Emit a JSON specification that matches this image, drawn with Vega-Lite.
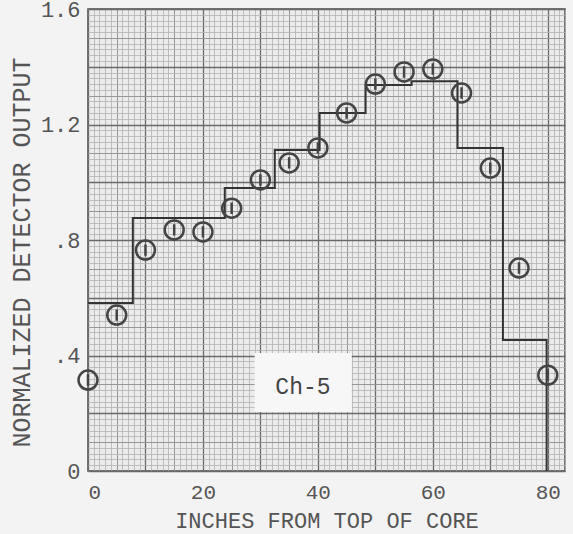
{
  "$schema": "https://vega.github.io/schema/vega-lite/v6.json",
  "width": 477,
  "height": 462,
  "autosize": {"type": "none"},
  "padding": {"left": 88, "top": 9, "right": 8, "bottom": 63},
  "background": "#f3f3f3",
  "config": {
    "view": {"fill": "#ebebeb", "stroke": "#4a4a4a", "strokeWidth": 1.5},
    "font": "Liberation Mono"
  },
  "datasets": {
    "points": [
      {"inches": 0, "output": 0.315},
      {"inches": 5, "output": 0.54},
      {"inches": 10, "output": 0.765},
      {"inches": 15, "output": 0.835},
      {"inches": 20, "output": 0.828},
      {"inches": 25, "output": 0.91},
      {"inches": 30, "output": 1.008},
      {"inches": 35, "output": 1.067},
      {"inches": 40, "output": 1.119},
      {"inches": 45, "output": 1.24},
      {"inches": 50, "output": 1.34},
      {"inches": 55, "output": 1.382},
      {"inches": 60, "output": 1.392},
      {"inches": 65, "output": 1.309},
      {"inches": 70, "output": 1.049},
      {"inches": 75, "output": 0.703},
      {"inches": 80, "output": 0.332}
    ],
    "steps": [
      {"inches": 0, "output": 0.582},
      {"inches": 7.8, "output": 0.876},
      {"inches": 23.8, "output": 0.98},
      {"inches": 32.5, "output": 1.112},
      {"inches": 40.3, "output": 1.24},
      {"inches": 48.3, "output": 1.337},
      {"inches": 56.3, "output": 1.35},
      {"inches": 64.3, "output": 1.119},
      {"inches": 72.2, "output": 0.454},
      {"inches": 79.8, "output": 0}
    ],
    "label": [
      {"x1": 29.0, "x2": 45.9, "y1": 0.204, "y2": 0.409, "tx": 37.4, "ty": 0.29, "text": "Ch-5"}
    ]
  },
  "layer": [
    {
      "data": {"name": "points"},
      "mark": {"type": "point", "opacity": 0},
      "encoding": {
        "x": {"field": "inches", "type": "quantitative", "scale": {"domain": [0, 83], "nice": false, "zero": false},
          "axis": {"orient": "bottom", "tickCount": 83, "grid": true, "gridColor": "#b3b3b3", "gridWidth": 0.8, "labels": false, "ticks": false, "domain": false, "title": null}},
        "y": {"field": "output", "type": "quantitative", "scale": {"domain": [0, 1.6], "nice": false, "zero": false},
          "axis": {"orient": "left", "tickCount": 80, "grid": true, "gridColor": "#b3b3b3", "gridWidth": 0.8, "labels": false, "ticks": false, "domain": false, "title": null}}
      }
    },
    {
      "data": {"name": "points"},
      "mark": {"type": "point", "opacity": 0},
      "encoding": {
        "x": {"field": "inches", "type": "quantitative",
          "axis": {"orient": "bottom", "tickCount": 17, "grid": true, "gridColor": "#979797", "gridWidth": 1, "labels": false, "ticks": false, "domain": false, "title": null}},
        "y": {"field": "output", "type": "quantitative",
          "axis": {"orient": "left", "tickCount": 16, "grid": true, "gridColor": "#979797", "gridWidth": 1, "labels": false, "ticks": false, "domain": false, "title": null}}
      }
    },
    {
      "data": {"name": "points"},
      "mark": {"type": "point", "opacity": 0},
      "encoding": {
        "x": {"field": "inches", "type": "quantitative",
          "axis": {"orient": "bottom", "tickCount": 8, "grid": true, "gridColor": "#6a6a6a", "gridWidth": 1.3, "labels": false, "ticks": false, "domain": false, "title": null}},
        "y": {"field": "output", "type": "quantitative",
          "axis": {"orient": "left", "tickCount": 8, "grid": true, "gridColor": "#6a6a6a", "gridWidth": 1.3, "labels": false, "ticks": false, "domain": false, "title": null}}
      }
    },
    {
      "data": {"name": "label"},
      "mark": {"type": "rect", "fill": "#f7f7f7"},
      "encoding": {
        "x": {"field": "x1", "type": "quantitative",
          "axis": {"orient": "bottom", "values": [0, 20, 40, 60, 80], "grid": false, "ticks": false, "domain": false,
            "labelFont": "Liberation Mono", "labelFontSize": 21, "labelColor": "#555555", "labelPadding": 10,
            "title": "INCHES FROM TOP OF CORE", "titleFont": "Liberation Mono", "titleFontSize": 22, "titleFontWeight": "normal", "titleColor": "#555555", "titlePadding": 8}},
        "x2": {"field": "x2"},
        "y": {"field": "y1", "type": "quantitative",
          "axis": {"orient": "left", "values": [0, 0.4, 0.8, 1.2, 1.6], "grid": false, "ticks": false, "domain": false,
            "labelExpr": "datum.value == 0 ? '0' : (datum.value < 1 ? replace(format(datum.value, '.1f'), '0.', '.') : format(datum.value, '.1f'))",
            "labelFont": "Liberation Mono", "labelFontSize": 22, "labelColor": "#555555", "labelPadding": 8,
            "title": "NORMALIZED DETECTOR OUTPUT", "titleFont": "Liberation Mono", "titleFontSize": 25, "titleFontWeight": "normal", "titleColor": "#555555", "titlePadding": 6, "titleY": 243}},
        "y2": {"field": "y2"}
      }
    },
    {
      "data": {"name": "steps"},
      "mark": {"type": "line", "interpolate": "step-after", "color": "#333333", "strokeWidth": 2},
      "encoding": {
        "x": {"field": "inches", "type": "quantitative", "axis": null},
        "y": {"field": "output", "type": "quantitative", "axis": null}
      }
    },
    {
      "data": {"name": "points"},
      "mark": {"type": "point", "shape": "M-1,0A1,1 0 1,1 1,0A1,1 0 1,1 -1,0M0,-0.6L0,0.6", "size": 360, "filled": false, "stroke": "#444444", "strokeWidth": 2.5, "opacity": 1},
      "encoding": {
        "x": {"field": "inches", "type": "quantitative", "axis": null},
        "y": {"field": "output", "type": "quantitative", "axis": null}
      }
    },
    {
      "data": {"name": "label"},
      "mark": {"type": "text", "font": "Liberation Mono", "fontSize": 23, "color": "#444444", "align": "center", "baseline": "middle"},
      "encoding": {
        "x": {"field": "tx", "type": "quantitative", "axis": null},
        "y": {"field": "ty", "type": "quantitative", "axis": null},
        "text": {"field": "text"}
      }
    }
  ],
  "resolve": {"axis": {"x": "independent", "y": "independent"}}
}
